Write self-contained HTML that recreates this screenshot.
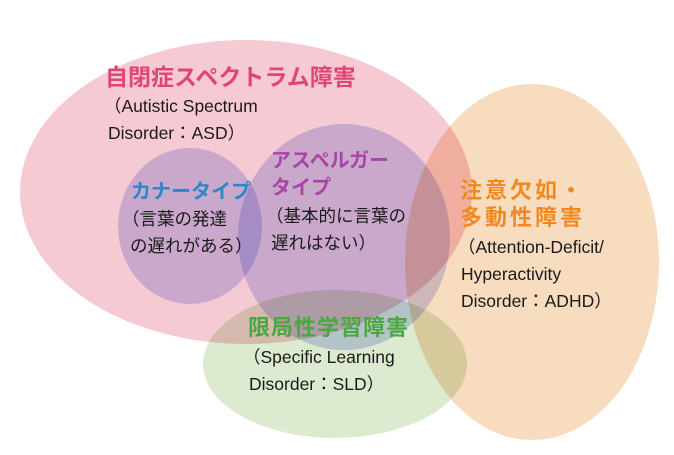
<!DOCTYPE html>
<html><head><meta charset="utf-8"><style>
body{margin:0;background:#fff;width:674px;height:455px;overflow:hidden}
svg{display:block}
text{font-family:"Liberation Sans","Noto Sans CJK JP",sans-serif}
.b{font-size:17.5px;fill:#1a1a1a}
.t{font-size:22px;font-weight:bold}
</style></head><body>
<svg width="674" height="455" viewBox="0 0 674 455">
<g style="isolation:isolate">
<ellipse cx="246" cy="192" rx="226" ry="152" fill="#f6cad3"/>
<ellipse cx="532" cy="262" rx="127" ry="178" fill="#f8dcc0" style="mix-blend-mode:multiply"/>
<ellipse cx="335" cy="364" rx="132" ry="74" fill="#dcebd0" style="mix-blend-mode:multiply"/>
<ellipse cx="190" cy="226" rx="72" ry="78" fill="#d2d4f6" style="mix-blend-mode:multiply"/>
<ellipse cx="344" cy="237" rx="106" ry="113" fill="#d2d4f6" style="mix-blend-mode:multiply"/>
</g>
<text x="105" y="85" class="t" style="font-size:23px" fill="#e0457a">自閉症スペクトラム障害</text>
<text x="104" y="112" class="b">（Autistic Spectrum</text>
<text x="108" y="139" class="b">Disorder：ASD）</text>
<text x="131" y="198" class="t" style="font-size:20px" fill="#2a88c8">カナータイプ</text>
<text x="122" y="225" class="b">（言葉の発達</text>
<text x="130" y="252" class="b">の遅れがある）</text>
<text x="271" y="167" class="t" style="font-size:20px" fill="#a845a8">アスペルガー</text>
<text x="271" y="194" class="t" style="font-size:20px" fill="#a845a8">タイプ</text>
<text x="266" y="222" class="b">（基本的に言葉の</text>
<text x="271" y="249" class="b">遅れはない）</text>
<text x="460" y="198" class="t" style="letter-spacing:3px" fill="#f08a1e">注意欠如・</text>
<text x="460" y="225" class="t" style="letter-spacing:3px" fill="#f08a1e">多動性障害</text>
<text x="458" y="253" class="b">（Attention-Deficit/</text>
<text x="461" y="280" class="b">Hyperactivity</text>
<text x="461" y="307" class="b">Disorder：ADHD）</text>
<text x="248" y="335" class="t" style="letter-spacing:1px" fill="#4aa840">限局性学習障害</text>
<text x="243" y="363" class="b">（Specific Learning</text>
<text x="249" y="390" class="b">Disorder：SLD）</text>
</svg>
</body></html>
